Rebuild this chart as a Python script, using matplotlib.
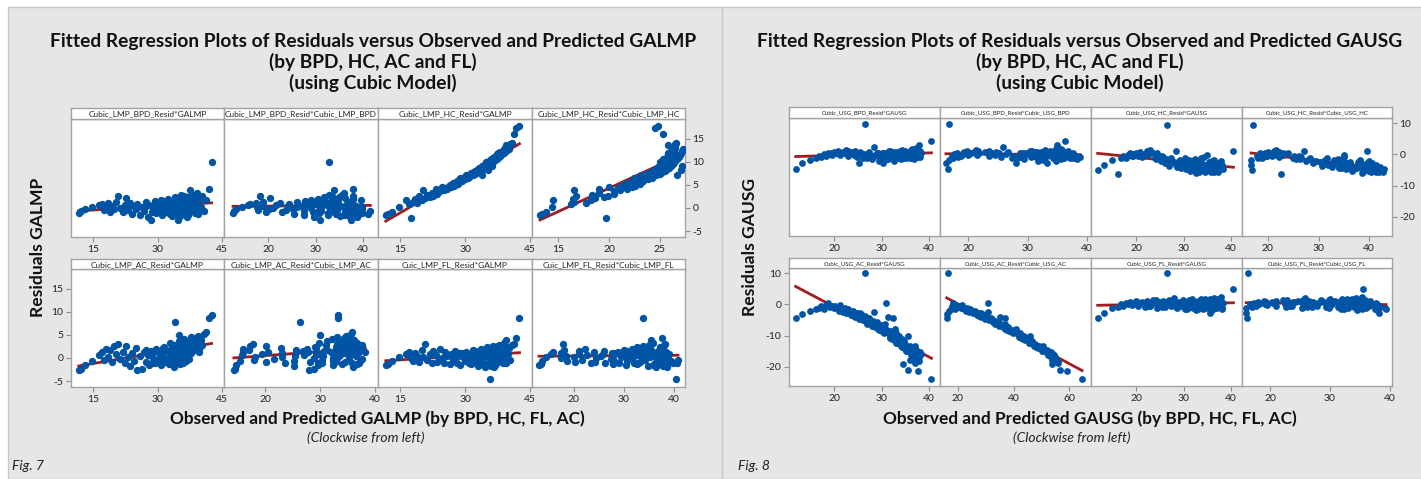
import numpy as np
import matplotlib
matplotlib.use('Agg')
import matplotlib.pyplot as plt
from matplotlib.patches import Rectangle

W, H = 1421, 479
plt.rcParams['font.family'] = ['Lato', 'DejaVu Sans']

BLUE = '#0054a6'
RED = '#a31c1c'
FRAME = '#a3a3a3'
BOX = '#e6e6e6'

# Fig. 7 -- observed GA (LMP) and residuals of the four cubic models
ga_lmp = [11.6, 12.1, 13.0, 14.7, 16.3, 17.1, 17.5, 17.9, 18.4, 18.8,
          19.3, 19.9, 20.3, 20.8, 21.2, 21.9, 22.3, 22.6, 23.2, 23.5,
          24.1, 24.6, 25.0, 25.3, 25.9, 26.4, 26.8, 27.2, 27.7, 28.1,
          28.4, 28.9, 29.3, 29.6, 30.0, 30.3, 30.7, 31.0, 31.4, 31.8,
          32.1, 32.4, 32.7, 33.0, 33.3, 33.6, 33.9, 34.1, 34.4, 34.7,
          35.0, 35.2, 35.5, 35.8, 36.0, 36.3, 36.5, 36.8, 37.1, 37.3,
          37.6, 37.9, 38.1, 38.4, 38.7, 39.0, 39.2, 39.5, 39.8, 40.1,
          40.4, 40.8, 41.3, 41.9, 42.6, 34.2, 35.6, 36.6, 37.4, 38.3,
          39.6, 33.5, 32.9, 31.6, 30.5, 29.0, 36.1, 37.0, 38.9, 35.3,
          30.9, 31.3, 32.3, 33.2, 33.8, 34.5, 34.9, 35.4, 35.9, 36.2,
          36.7, 37.2, 37.7, 38.0, 38.6, 39.1, 39.4, 40.0, 28.6, 27.4]

lmp_bpd_resid = [-1.0, -0.6, -0.3, 0.3, 0.6, 0.9, -0.4, 0.2, 1.0, -0.8,
                 0.5, -0.2, 1.3, 2.5, 0.1, -0.9, 0.7, 2.2, -0.5, 1.1,
                 -1.3, 0.4, -0.2, 0.9, -1.6, 0.3, -0.7, 1.2, -1.9, 0.6,
                 -2.6, 0.0, 1.5, -1.1, 0.8, -0.4, 1.8, -1.5, 0.2, 1.0,
                 -0.8, 2.0, -0.2, 0.6, -1.7, 1.4, -0.5, 2.4, 0.1, -2.7,
                 1.1, -0.9, 2.8, 0.4, -1.2, 1.7, 0.0, -1.9, 2.3, 0.7,
                 3.8, -0.6, 1.3, 2.9, -1.0, 0.5, 3.3, -1.4, 1.9, 0.3,
                 2.5, -0.7, 1.8, 4.1, 9.9, -0.3, 1.6, -1.1, 0.9, 2.1,
                 -0.2, 0.8, -1.3, 1.5, -0.6, 0.4, 2.6, -0.4, 1.2, -1.8,
                 0.9, -1.2, 1.6, -0.3, 1.1, -1.5, 0.5, 1.9, -0.8, 0.3,
                 2.0, -1.6, 1.0, 2.6, -0.4, 1.4, 0.2, 2.2, -0.9, 0.4]

lmp_hc_resid = [-1.6, -1.3, -0.8, 0.3, 1.8, 0.9, -2.2, 1.4, 2.0, 1.1,
                2.6, 1.7, 3.8, 2.2, 2.9, 2.4, 3.3, 2.7, 4.2, 3.0,
                3.6, 4.6, 3.9, 4.4, 4.1, 5.0, 4.5, 5.4, 5.1, 5.8,
                5.3, 6.4, 5.9, 6.6, 6.2, 7.1, 6.5, 7.0, 7.6, 7.2,
                7.9, 7.4, 8.3, 7.8, 8.6, 8.1, 9.0, 8.4, 9.3, 8.8,
                9.6, 9.1, 10.2, 9.5, 10.4, 9.9, 10.8, 10.3, 11.2, 10.6,
                11.5, 11.0, 12.1, 11.4, 12.4, 11.9, 13.0, 12.3, 13.4, 12.8,
                13.9, 14.2, 16.0, 17.4, 17.8, 8.9, 9.8, 10.1, 11.6, 11.8,
                13.1, 8.4, 8.0, 7.4, 6.8, 6.0, 10.0, 10.7, 12.6, 9.4,
                6.7, 7.3, 8.0, 8.2, 7.1, 8.6, 9.9, 8.3, 10.6, 9.0,
                11.0, 10.9, 11.9, 11.3, 12.2, 12.7, 13.6, 13.5, 5.6, 4.8]

lmp_ac_resid = [-2.7, -2.4, -1.6, -0.7, 0.6, 1.2, -0.5, 2.0, 0.3, 1.8,
                -0.8, 2.7, 0.9, 3.1, -0.3, 1.4, -1.2, 2.5, 0.2, -1.8,
                1.0, -0.6, 2.1, -2.6, 0.5, -2.4, 1.3, -0.9, 0.7, -1.5,
                1.6, 0.0, -1.1, 2.0, -0.4, 1.1, -1.6, 0.6, 2.3, -0.8,
                1.5, 0.1, -1.3, 3.2, 0.4, -0.9, -2.0, 7.7, 1.2, -0.5,
                5.0, 2.4, 0.3, 1.9, -1.0, 2.6, 0.8, 3.4, 1.5, -0.2,
                2.9, 1.1, 3.6, 2.2, 4.4, 1.7, 3.0, 4.8, 2.4, 3.9,
                2.8, 5.3, 5.6, 8.6, 9.3, 0.7, 1.8, -0.6, 2.0, 3.3,
                1.4, 0.2, 1.7, -0.7, 0.9, 1.3, 3.1, 0.5, 2.7, -1.4,
                0.4, 2.1, -0.6, 1.3, 2.8, -1.2, 3.6, 1.0, 2.2, 4.1,
                1.4, 3.0, 4.6, 2.5, 3.8, 2.1, 4.2, 3.3, -1.0, 1.8]

lmp_fl_resid = [-1.5, -1.3, -0.6, 0.2, 0.9, 1.3, 0.0, -0.7, 1.0, 0.4,
                -0.9, 1.8, 0.3, 3.0, -0.4, 0.8, -1.1, 1.5, 0.6, -0.8,
                1.9, 0.1, -1.2, 1.2, 0.4, -1.4, 0.9, -0.3, 1.6, -1.0,
                0.5, -1.6, 1.1, 0.2, -0.7, 1.4, -0.2, 0.8, -1.3, 1.7,
                0.3, -0.9, 1.2, -1.8, 0.6, 2.0, -0.4, 1.0, -1.5, 0.7,
                2.4, -1.1, 0.2, -4.6, 1.3, -0.6, 2.6, -1.9, 0.9, 1.8,
                -0.3, 2.9, 0.4, 1.5, -1.2, 3.2, 0.6, 4.0, 1.4, 2.2,
                -0.5, 2.8, 3.1, 4.3, 8.7, 0.5, -1.0, 1.6, -0.8, 0.7,
                2.3, -0.2, 1.1, -1.2, 0.4, 0.9, -1.7, 1.9, -0.6, 1.2,
                -1.1, 0.7, 1.6, -0.5, 1.3, -1.9, 0.4, 1.9, -0.9, 2.3,
                0.2, -1.4, 2.5, 0.8, -0.3, 1.7, -1.2, 0.9, 1.0, -0.6]

# Fig. 8 -- observed GA (USG) and residuals
ga_usg = [11.9, 13.3, 14.9, 16.2, 16.8, 17.3, 17.8, 18.2, 18.7, 19.1,
          19.6, 20.0, 20.5, 20.9, 21.3, 21.8, 22.2, 22.6, 23.0, 23.5,
          23.9, 24.4, 24.8, 25.3, 25.7, 26.1, 26.6, 27.0, 27.4, 27.9,
          28.3, 28.7, 29.1, 29.5, 29.9, 30.3, 30.6, 31.0, 31.3, 31.7,
          32.0, 32.4, 32.7, 33.0, 33.4, 33.7, 34.0, 34.3, 34.6, 34.9,
          35.2, 35.5, 35.8, 36.1, 36.4, 36.7, 37.0, 37.3, 37.6, 37.9,
          38.2, 40.5, 26.5, 21.1, 22.9, 24.2, 25.5, 28.1, 29.3, 30.8,
          31.9, 32.9, 33.9, 34.8, 35.6, 36.3, 37.1, 37.8, 30.1, 33.2,
          35.0, 36.9, 19.4, 27.6, 31.5, 34.5, 36.0, 37.5, 38.0, 32.2,
          29.7, 30.5, 31.1, 31.8, 32.5, 33.1, 33.6, 34.2, 34.7, 35.3,
          35.9, 36.5, 37.2, 37.7, 38.1, 24.6, 22.4, 20.2, 26.9, 28.5]

usg_bpd_resid = [-4.6, -2.9, -1.8, -1.2, -0.4, -0.9, 0.2, -0.5, 0.6, 0.1,
                 -0.3, 0.8, 0.3, 1.1, -0.2, 0.9, 0.4, 1.3, -0.4, 0.7,
                 0.0, 1.0, -0.7, -2.7, 0.5, -1.2, 0.2, -0.6, 0.8, -1.5,
                 2.4, -0.3, 0.4, -2.2, 0.1, -2.9, -0.8, 0.6, -1.4, 0.2,
                 -0.5, 0.9, -2.1, 0.3, -0.9, 0.7, -1.6, 0.4, -0.3, 1.2,
                 -1.0, 0.5, -0.4, 1.5, -1.3, 0.8, 0.1, 2.1, -0.6, 3.0,
                 0.6, 4.2, 9.7, 0.6, 1.2, -0.3, 0.9, -0.8, 0.3, -1.8,
                 0.7, -0.4, 1.0, -1.2, 0.4, -0.7, 1.3, -0.1, 0.5, -1.0,
                 0.8, -1.5, 0.4, -0.9, 1.1, -0.2, 0.6, 1.8, -0.9, 0.2,
                 -0.8, 0.5, -1.6, 1.0, -0.2, 0.8, -1.1, 1.3, -0.5, 0.6,
                 -1.2, 1.7, 0.3, -0.8, 1.2, 0.6, 1.0, 0.4, -1.3, -0.4]

usg_hc_resid = [-5.0, -3.4, -1.8, -6.3, -1.2, -0.5, -1.0, -0.2, 0.3, -0.6,
                0.1, 0.5, -0.4, 0.8, -0.9, 0.2, 1.0, -0.3, 1.4, 0.6,
                -1.1, 0.4, -1.6, -2.2, -0.8, -2.9, -1.5, -3.6, -1.0, -2.4,
                1.2, -3.9, -2.0, -4.5, -2.8, -1.3, -4.8, -3.0, -5.4, -2.2,
                -3.7, -1.5, -5.9, -3.2, -4.2, -2.5, -5.1, -0.8, -3.5, -0.2,
                -4.6, -2.9, -5.6, -3.3, -1.8, -4.4, -2.6, -5.2, -3.8, -2.0,
                -4.7, 1.0, 9.4, -0.2, 0.7, -1.4, -0.6, -2.7, -1.9, -3.5,
                -4.1, -2.6, -4.9, -3.9, -2.3, -5.7, -3.1, -4.3, -4.0, -5.5,
                -3.6, -4.6, -0.4, -2.0, -3.3, -5.8, -2.1, -4.9, -3.4, -1.7,
                -3.1, -4.2, -1.9, -5.0, -2.7, -4.0, -1.2, -3.6, -5.3, -2.4,
                -4.5, -3.0, -5.6, -2.8, -4.1, -0.5, 0.9, 0.2, -2.0, -3.3]

usg_ac_resid = [-4.2, -3.0, -2.0, -1.6, -1.2, -0.6, -1.4, -0.2, 0.3, -0.9,
                -0.4, -1.3, -0.7, -1.5, -0.3, -2.4, -1.0, -2.8, -1.8, -3.4,
                -2.2, -3.9, -2.6, -4.6, -3.1, -5.0, -3.7, -6.3, -4.4, -6.9,
                -2.5, -7.4, -5.8, -8.1, -6.6, -9.0, -7.3, 0.3, -3.9, -10.4,
                -8.6, -4.5, -11.5, -9.3, -12.4, -10.1, -13.2, -11.0, -19.1, -12.8,
                -15.0, -21.2, -13.6, -16.2, -14.4, -17.3, -18.8, -15.6, -21.5, -17.0,
                -16.0, -24.0, 10.0, -2.0, -1.4, -3.6, -2.9, -5.4, -7.8, -6.2,
                -9.6, -7.9, -11.8, -14.0, -10.3, -15.5, -13.4, -18.2, -8.4, -10.9,
                -13.0, -16.6, -0.5, -4.9, -8.9, -12.6, -17.8, -14.8, -15.3, -11.2,
                -7.0, -9.2, -8.3, -10.9, -9.8, -12.3, -10.8, -13.8, -11.9, -15.1,
                -13.2, -16.6, -14.7, -17.9, -16.3, -2.8, -1.7, -0.4, -5.8, -5.5]

usg_fl_resid = [-4.3, -2.7, -1.1, -0.7, 0.2, -0.4, 0.5, 0.0, 0.8, -0.3,
                0.6, 1.0, -0.5, 0.3, 0.9, -0.8, 1.2, 0.1, -0.6, 1.4,
                0.4, -1.0, 0.7, -0.2, 1.1, -0.9, 0.5, 1.5, -0.4, 2.0,
                0.3, -1.2, 0.8, -0.6, 1.3, -1.5, 0.2, 0.9, -0.7, 1.6,
                -1.1, 0.4, -1.8, 1.0, -0.3, 1.2, -1.4, 0.6, 1.8, -0.9,
                0.3, -2.8, 1.4, -0.5, 2.1, -1.2, 0.7, 1.7, -0.8, 1.1,
                0.5, 5.0, 10.2, 0.6, -0.4, 1.3, -0.7, 0.9, -0.2, -1.6,
                1.0, -0.5, 0.8, -1.3, 1.9, 0.1, -1.0, 2.4, 0.4, -0.8,
                1.5, -0.3, 0.2, 1.1, -0.6, 0.3, -1.9, 0.9, -1.4, 0.6,
                0.7, -0.9, 1.3, -0.2, 0.9, -1.4, 1.6, 0.1, -0.7, 1.2,
                -1.6, 0.5, 1.4, -0.3, -1.1, 0.8, -0.5, 0.9, 1.1, -0.8]


fig = plt.figure(figsize=(W / 100, H / 100), dpi=100)
fig.patch.set_facecolor('white')

# grey background boxes of the two figures
for x0, x1 in [(8, 722), (722, 1430)]:
    fig.patches.append(Rectangle((x0 / W, 0), (x1 - x0) / W, 1 - 7 / H,
                                 transform=fig.transFigure, facecolor=BOX,
                                 edgecolor='#c9c9c9', lw=1, zorder=-10))


def px_axes(x0, y0, x1, y1):
    return fig.add_axes([x0 / W, 1 - y1 / H, (x1 - x0) / W, (y1 - y0) / H])


def draw_panel(x0, x1, ys, xs, res, strip, xlim, ylim, xticks, yticks, yside, strip_fs, msize):
    y_strip, y0, y1 = ys
    ax = px_axes(x0, y0, x1, y1)
    ax.scatter(xs, res, s=msize, color=BLUE, linewidths=0, zorder=3)
    k, b = np.polyfit(xs, res, 1)
    xx = np.array([np.min(xs), np.max(xs)])
    ax.plot(xx, k * xx + b, color=RED, lw=2, zorder=2)
    ax.set_xlim(xlim)
    ax.set_ylim(ylim)
    ax.set_xticks(xticks)
    ax.set_xticklabels([str(t) for t in xticks])
    if yside is None:
        ax.set_yticks([])
    else:
        ax.set_yticks(yticks)
        ax.set_yticklabels([str(t) for t in yticks])
        if yside == 'right':
            ax.yaxis.tick_right()
    ax.tick_params(direction='out', length=3.5, width=0.8, color='#8c8c8c',
                   labelsize=7.5, labelcolor='#222222', pad=2)
    for sp in ax.spines.values():
        sp.set_color(FRAME)
        sp.set_linewidth(1)
    ax.set_facecolor('white')

    sa = px_axes(x0, y_strip, x1, y0)
    sa.set_xticks([])
    sa.set_yticks([])
    for sp in sa.spines.values():
        sp.set_color(FRAME)
        sp.set_linewidth(1)
    sa.text(0.5, 0.45, strip, ha='center', va='center', fontsize=strip_fs,
            color='#222222', transform=sa.transAxes)


def draw_chart(cols, rows, ga, resids, preds, strips, ga_lim, pred_lims,
               ga_ticks, pred_ticks, ylim, yticks, strip_fs, msize):
    # panel order: row 1 -> BPD, HC ; row 2 -> AC, FL ; each vs observed then vs predicted
    for i in range(8):
        r, c = divmod(i, 4)
        m = r * 2 + c // 2
        vs_pred = c % 2 == 1
        if vs_pred:
            xs, xlim, xt = preds[m], pred_lims[m], pred_ticks[m]
        else:
            xs, xlim, xt = ga, ga_lim, ga_ticks
        yside = None
        if r == 0 and c == 3:
            yside = 'right'
        if r == 1 and c == 0:
            yside = 'left'
        draw_panel(cols[c], cols[c + 1], rows[r], xs, resids[m], strips[i],
                   xlim, ylim, xt, yticks, yside, strip_fs, msize)


# ---------- Fig. 7 ----------
ga = np.array(ga_lmp)
resids = [np.array(lmp_bpd_resid), np.array(lmp_hc_resid),
          np.array(lmp_ac_resid), np.array(lmp_fl_resid)]
preds = [ga - r for r in resids]   # predicted = observed - residual
draw_chart([71, 224, 378, 532, 685], [(108, 119, 237), (259, 269, 387)],
           ga, resids, preds,
           ['Cubic_LMP_BPD_Resid*GALMP', 'Cubic_LMP_BPD_Resid*Cubic_LMP_BPD',
            'Cubic_LMP_HC_Resid*GALMP', 'Cubic_LMP_HC_Resid*Cubic_LMP_HC',
            'Cubic_LMP_AC_Resid*GALMP', 'Cubic_LMP_AC_Resid*Cubic_LMP_AC',
            'Cuic_LMP_FL_Resid*GALMP', 'Cuic_LMP_FL_Resid*Cubic_LMP_FL'],
           (9.8, 45.5), [(10.7, 43.1), (12.4, 27.5), (12.5, 40.5), (11.7, 42.3)],
           [15, 30, 45], [[20, 30, 40], [15, 20, 25], [20, 30, 40], [20, 30, 40]],
           (-6.3, 19.3), [-5, 0, 5, 10, 15], 6.0, 28)

# ---------- Fig. 8 ----------
ga = np.array(ga_usg)
resids = [np.array(usg_bpd_resid), np.array(usg_hc_resid),
          np.array(usg_ac_resid), np.array(usg_fl_resid)]
preds = [ga - r for r in resids]
draw_chart([789, 940, 1091, 1242, 1392], [(107, 118, 236), (258, 268, 386)],
           ga, resids, preds,
           ['Cubic_USG_BPD_Resid*GAUSG', 'Cubic_USG_BPD_Resid*Cubic_USG_BPD',
            'Cubic_USG_HC_Resid*GAUSG', 'Cubic_USG_HC_Resid*Cubic_USG_HC',
            'Cubic_USG_AC_Resid*GAUSG', 'Cubic_USG_AC_Resid*Cubic_USG_AC',
            'Cubic_USG_FL_Resid*GAUSG', 'Cubic_USG_FL_Resid*Cubic_USG_FL'],
           (10.5, 42.3), [(15.2, 40.7), (14.9, 44.5), (13.7, 67.7), (15.3, 40.4)],
           [20, 30, 40], [[20, 30, 40], [20, 30, 40], [20, 40, 60], [20, 30, 40]],
           (-26.2, 11.7), [-20, -10, 0, 10], 4.4, 24)


def ftext(x, y, s, **kw):
    fig.text(x / W, 1 - y / H, s, **kw)


for cx, name, ylab_x, cw_x, xl_x in [(373, 'GALMP', 38, 366, 377),
                                     (1080, 'GAUSG', 750, 1072, 1090)]:
    ftext(cx, 41, 'Fitted Regression Plots of Residuals versus Observed and Predicted ' + name,
          ha='center', va='center', fontsize=13.8, weight='bold', color='#111111')
    ftext(cx, 62, '(by BPD, HC, AC and FL)', ha='center', va='center',
          fontsize=13.8, weight='bold', color='#111111')
    ftext(cx, 83, '(using Cubic Model)', ha='center', va='center',
          fontsize=13.8, weight='bold', color='#111111')
    ftext(ylab_x, 247, 'Residuals ' + name, ha='center', va='center', rotation=90,
          fontsize=12.6, weight='bold', color='#111111')
    ftext(xl_x, 419, 'Observed and Predicted ' + name + ' (by BPD, HC, FL, AC)',
          ha='center', va='center', fontsize=12.4, weight='bold', color='#111111')
    ftext(cw_x, 438, '(Clockwise from left)', ha='center', va='center',
          fontsize=10, style='italic', color='#222222')

ftext(12, 466, 'Fig. 7', ha='left', va='center', fontsize=10, style='italic', color='#222222')
ftext(738, 466, 'Fig. 8', ha='left', va='center', fontsize=10, style='italic', color='#222222')

fig.savefig('out.png', dpi=100, facecolor='white')
